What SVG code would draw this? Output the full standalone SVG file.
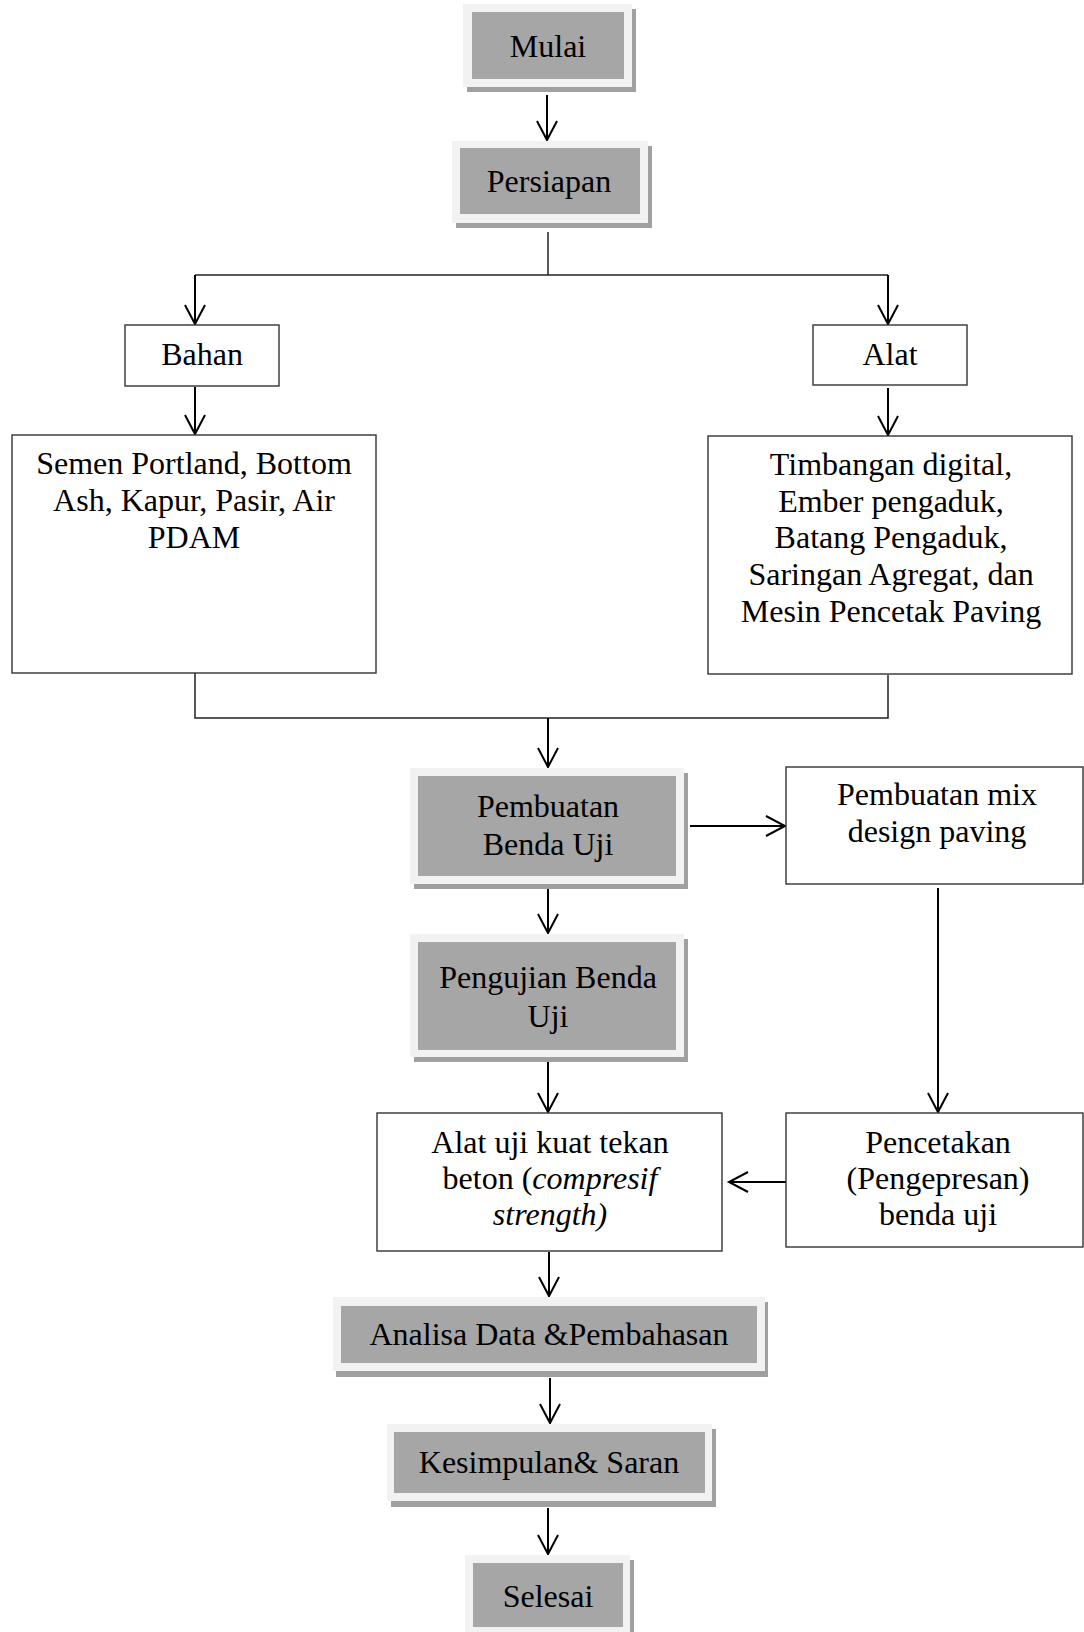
<svg xmlns="http://www.w3.org/2000/svg" width="1084" height="1632" viewBox="0 0 1084 1632">
<style>
text{font-family:"Liberation Serif","Times New Roman",serif;font-size:32px;fill:#000;text-anchor:middle}
.box{fill:#fff;stroke:#333;stroke-width:1.4}
.outer{fill:#f2f2f2}
.inner{fill:#a6a6a6}
.shadow{fill:#a0a0a0}
.ln{fill:none;stroke:#000;stroke-width:2}
.thin{fill:none;stroke:#222;stroke-width:1.5}
</style>
<defs>
<marker id="arr" markerUnits="userSpaceOnUse" markerWidth="24" markerHeight="24" viewBox="-21 -12 24 24" refX="0" refY="0" orient="auto">
<path d="M-19,-10 L0,0 L-19,10" fill="none" stroke="#000" stroke-width="2"/>
</marker>
</defs>
<rect width="1084" height="1632" fill="#fff"/>
<g id="connectors">
<line class="ln" x1="547" y1="95" x2="547" y2="140" marker-end="url(#arr)"/>
<polyline class="thin" points="548,232 548,275"/>
<polyline class="thin" points="195,275 888,275"/>
<line class="ln" x1="195" y1="275" x2="195" y2="324" marker-end="url(#arr)"/>
<line class="ln" x1="888" y1="275" x2="888" y2="324" marker-end="url(#arr)"/>
<line class="ln" x1="195" y1="387" x2="195" y2="434" marker-end="url(#arr)"/>
<line class="ln" x1="888" y1="388" x2="888" y2="435" marker-end="url(#arr)"/>
<polyline class="thin" points="195,673 195,718 888,718 888,675"/>
<line class="ln" x1="548" y1="718" x2="548" y2="767" marker-end="url(#arr)"/>
<line class="ln" x1="690" y1="826" x2="785" y2="826" marker-end="url(#arr)"/>
<line class="ln" x1="548" y1="888" x2="548" y2="933" marker-end="url(#arr)"/>
<line class="ln" x1="938" y1="888" x2="938" y2="1112" marker-end="url(#arr)"/>
<line class="ln" x1="548" y1="1062" x2="548" y2="1112" marker-end="url(#arr)"/>
<line class="ln" x1="786" y1="1182" x2="729" y2="1182" marker-end="url(#arr)"/>
<line class="ln" x1="549" y1="1252" x2="549" y2="1296" marker-end="url(#arr)"/>
<line class="ln" x1="550" y1="1378" x2="550" y2="1423" marker-end="url(#arr)"/>
<line class="ln" x1="548" y1="1508" x2="548" y2="1554" marker-end="url(#arr)"/>
</g>
<g id="mulai">
<rect class="shadow" x="467" y="9" width="169" height="83"/>
<rect class="outer" x="463" y="4" width="169" height="83"/>
<rect class="inner" x="472" y="12" width="152" height="67"/>
<text x="548" y="57">Mulai</text>
</g>
<g id="persiapan">
<rect class="shadow" x="456" y="146" width="196" height="82"/>
<rect class="outer" x="452" y="141" width="196" height="82"/>
<rect class="inner" x="460" y="148" width="180" height="66"/>
<text x="549" y="192">Persiapan</text>
</g>
<g id="bahan">
<rect class="box" x="125" y="325" width="154" height="61"/>
<text x="202" y="365">Bahan</text>
</g>
<g id="alat">
<rect class="box" x="813" y="325" width="154" height="60"/>
<text x="890" y="365">Alat</text>
</g>
<g id="bahan-list">
<rect class="box" x="12" y="435" width="364" height="238"/>
<text x="194" y="474">Semen Portland, Bottom</text>
<text x="194" y="511">Ash, Kapur, Pasir, Air</text>
<text x="194" y="548">PDAM</text>
</g>
<g id="alat-list">
<rect class="box" x="708" y="436" width="364" height="238"/>
<text x="891" y="475">Timbangan digital,</text>
<text x="891" y="512">Ember pengaduk,</text>
<text x="891" y="548">Batang Pengaduk,</text>
<text x="891" y="585">Saringan Agregat, dan</text>
<text x="891" y="622">Mesin Pencetak Paving</text>
</g>
<g id="pembuatan">
<rect class="shadow" x="414" y="773" width="274" height="116"/>
<rect class="outer" x="410" y="768" width="274" height="116"/>
<rect class="inner" x="418" y="776" width="258" height="100"/>
<text x="548" y="817">Pembuatan</text>
<text x="548" y="855">Benda Uji</text>
</g>
<g id="mix">
<rect class="box" x="786" y="767" width="297" height="117"/>
<text x="937" y="805">Pembuatan mix</text>
<text x="937" y="842">design paving</text>
</g>
<g id="pengujian">
<rect class="shadow" x="414" y="939" width="274" height="123"/>
<rect class="outer" x="410" y="934" width="274" height="123"/>
<rect class="inner" x="418" y="942" width="258" height="108"/>
<text x="548" y="988">Pengujian Benda</text>
<text x="548" y="1027">Uji</text>
</g>
<g id="alat-uji">
<rect class="box" x="377" y="1113" width="345" height="138"/>
<text x="550" y="1153">Alat uji kuat tekan</text>
<text x="550" y="1189">beton (<tspan font-style="italic">compresif</tspan></text>
<text x="550" y="1225" font-style="italic">strength)</text>
</g>
<g id="pencetakan">
<rect class="box" x="786" y="1113" width="297" height="134"/>
<text x="938" y="1153">Pencetakan</text>
<text x="938" y="1189">(Pengepresan)</text>
<text x="938" y="1225">benda uji</text>
</g>
<g id="analisa">
<rect class="shadow" x="336" y="1302" width="432" height="75"/>
<rect class="outer" x="333" y="1297" width="432" height="74"/>
<rect class="inner" x="341" y="1306" width="416" height="57"/>
<text x="549" y="1345">Analisa Data &amp;Pembahasan</text>
</g>
<g id="kesimpulan">
<rect class="shadow" x="391" y="1429" width="325" height="78"/>
<rect class="outer" x="387" y="1424" width="325" height="77"/>
<rect class="inner" x="394" y="1432" width="311" height="61"/>
<text x="549" y="1473">Kesimpulan&amp; Saran</text>
</g>
<g id="selesai">
<rect class="shadow" x="469" y="1560" width="165" height="80"/>
<rect class="outer" x="465" y="1555" width="165" height="80"/>
<rect class="inner" x="473" y="1563" width="150" height="64"/>
<text x="548" y="1607">Selesai</text>
</g>
</svg>
